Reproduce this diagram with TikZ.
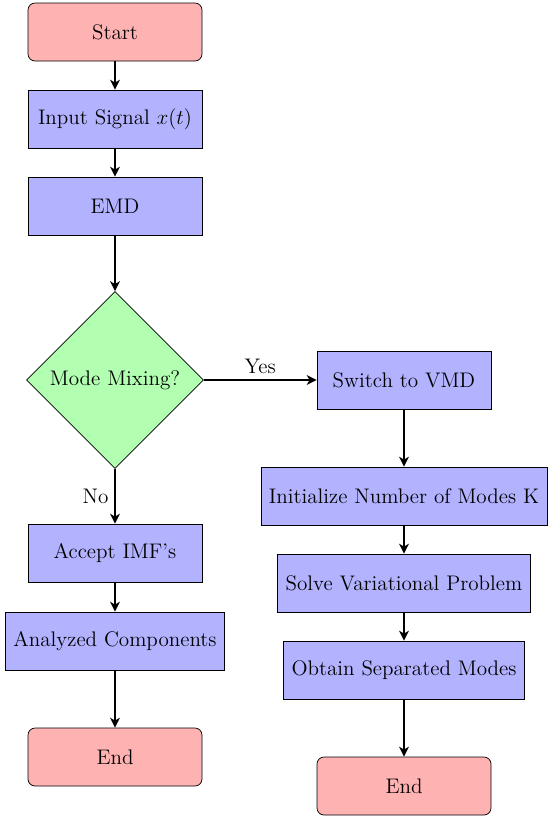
\documentclass[tikz,border=0pt]{standalone}
\usepackage{tikz}
\usetikzlibrary{arrows.meta,positioning,shapes.geometric}
\definecolor{termfill}{RGB}{255,178,178}
\definecolor{procfill}{RGB}{178,178,255}
\definecolor{decfill}{RGB}{178,255,178}

\begin{document}
\begin{tikzpicture}[
  term/.style={draw, rounded corners=4pt, fill=termfill, minimum width=3.48cm, minimum height=1.16cm, inner sep=4.5pt, font=\fontsize{12}{14}\selectfont},
  proc/.style={draw, fill=procfill, minimum width=3.48cm, minimum height=1.16cm, inner sep=4.5pt, font=\fontsize{12}{14}\selectfont},
  dec/.style={draw, diamond, fill=decfill, minimum width=3.54cm, minimum height=3.54cm, inner sep=0pt, font=\fontsize{12}{14}\selectfont},
  flow/.style={-{Stealth[length=2mm,width=2mm,inset=0.6mm]}, thick},
  lab/.style={font=\fontsize{12}{14}\selectfont}]
\useasboundingbox (0,0) rectangle (11,-16.36);
\node[term] (start) at (2.3,-0.64) {Start};
\node[proc] (input) at (2.3,-2.38) {Input Signal $x(t)$};
\node[proc] (emd) at (2.3,-4.12) {EMD};
\node[dec] (mix) at (2.3,-7.6) {Mode Mixing?};
\node[proc] (accept) at (2.3,-11.06) {Accept IMF's};
\node[proc] (analyzed) at (2.3,-12.82) {Analyzed Components};
\node[term] (endl) at (2.3,-15.14) {End};
\node[proc] (vmd) at (8.08,-7.6) {Switch to VMD};
\node[proc] (init) at (8.08,-9.92) {Initialize Number of Modes K};
\node[proc] (solve) at (8.08,-11.66) {Solve Variational Problem};
\node[proc] (obtain) at (8.08,-13.4) {Obtain Separated Modes};
\node[term] (endr) at (8.08,-15.72) {End};
\draw[flow] (start) -- (input);
\draw[flow] (input) -- (emd);
\draw[flow] (emd) -- (mix);
\draw[flow] (mix) -- node[lab, above] {Yes} (vmd);
\draw[flow] (mix) -- node[lab, left] {No} (accept);
\draw[flow] (accept) -- (analyzed);
\draw[flow] (analyzed) -- (endl);
\draw[flow] (vmd) -- (init);
\draw[flow] (init) -- (solve);
\draw[flow] (solve) -- (obtain);
\draw[flow] (obtain) -- (endr);
\end{tikzpicture}
\end{document}
